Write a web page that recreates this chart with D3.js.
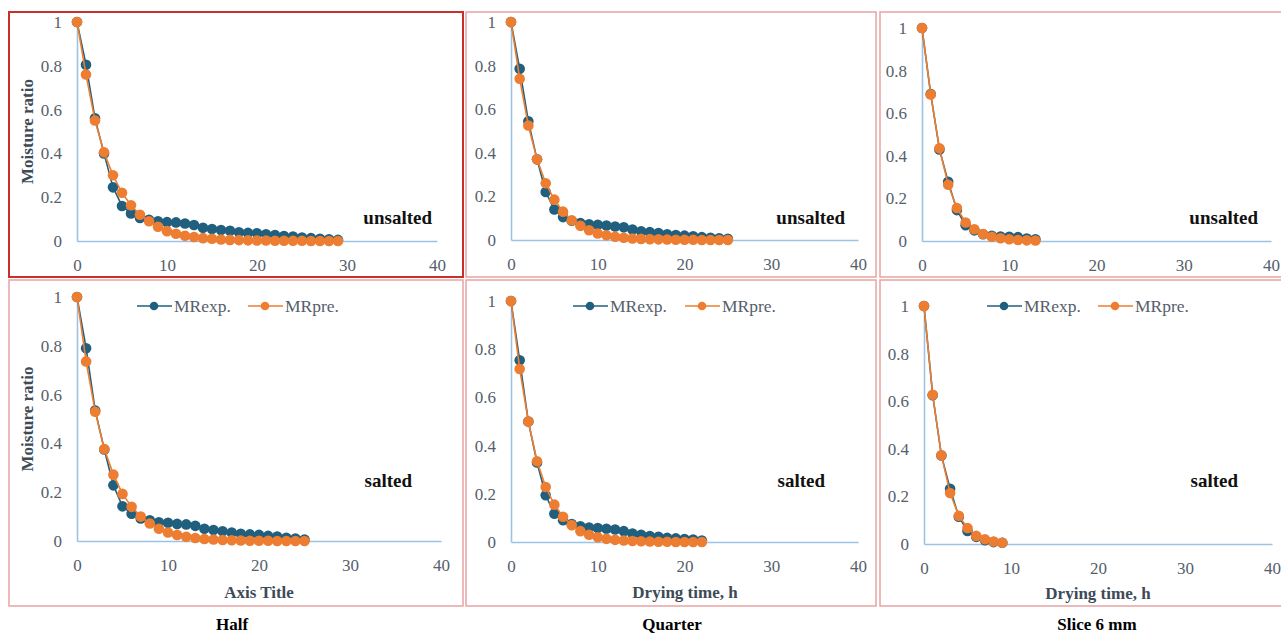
<!DOCTYPE html>
<html>
<head>
<meta charset="utf-8">
<script src="https://cdn.jsdelivr.net/npm/d3@7"></script>
<style>
  html, body { margin: 0; padding: 0; background: #ffffff; }
  svg { display: block; }
  text { font-family: "Liberation Serif", "DejaVu Serif", serif; }
</style>
</head>
<body>
<svg id="chart" width="1281" height="635"></svg>
<script>
// ---------------- DATA ----------------
const seriesNames = ["MRexp.", "MRpre."];
const xTicks = [0, 10, 20, 30, 40];
const yTicks = [0, 0.2, 0.4, 0.6, 0.8, 1];
const conditionLabels = ["unsalted", "salted"];
const shapeLabels = ["Half", "Quarter", "Slice 6 mm"];
const xAxisTitles = ["Axis Title", "Drying time, h", "Drying time, h"];
const yAxisTitle = "Moisture ratio";

// Half, unsalted (t = 0..29 h)
const halfUnsaltedExp = [1, 0.805, 0.56, 0.40, 0.245, 0.16, 0.126, 0.105, 0.097, 0.09, 0.086, 0.085, 0.08, 0.073, 0.06, 0.055, 0.05, 0.047, 0.04, 0.037, 0.035, 0.031, 0.027, 0.023, 0.02, 0.016, 0.013, 0.01, 0.008, 0.005];
const halfUnsaltedPre = [1, 0.76, 0.55, 0.405, 0.30, 0.22, 0.163, 0.12, 0.09, 0.065, 0.045, 0.033, 0.024, 0.018, 0.013, 0.01, 0.007, 0.005, 0.004, 0.003, 0.002, 0.002, 0.001, 0.001, 0.001, 0.001, 0, 0, 0, 0];
// Quarter, unsalted (t = 0..25 h)
const quarterUnsaltedExp = [1, 0.785, 0.545, 0.37, 0.22, 0.14, 0.105, 0.088, 0.078, 0.072, 0.07, 0.066, 0.062, 0.058, 0.048, 0.04, 0.036, 0.032, 0.026, 0.023, 0.02, 0.017, 0.013, 0.01, 0.008, 0.006];
const quarterUnsaltedPre = [1, 0.74, 0.525, 0.37, 0.26, 0.185, 0.13, 0.09, 0.065, 0.045, 0.03, 0.022, 0.015, 0.01, 0.007, 0.005, 0.004, 0.003, 0.002, 0.001, 0.001, 0.001, 0, 0, 0, 0];
// Slice 6 mm, unsalted (t = 0..13 h)
const sliceUnsaltedExp = [1, 0.69, 0.43, 0.278, 0.145, 0.074, 0.05, 0.032, 0.025, 0.021, 0.02, 0.018, 0.012, 0.008];
const sliceUnsaltedPre = [1, 0.688, 0.435, 0.264, 0.155, 0.087, 0.055, 0.033, 0.02, 0.013, 0.008, 0.005, 0.003, 0.002];
// Half, salted (t = 0..25 h)
const halfSaltedExp = [1, 0.79, 0.535, 0.375, 0.228, 0.142, 0.112, 0.092, 0.085, 0.077, 0.075, 0.07, 0.068, 0.062, 0.05, 0.045, 0.04, 0.035, 0.03, 0.027, 0.025, 0.021, 0.018, 0.013, 0.01, 0.006];
const halfSaltedPre = [1, 0.736, 0.53, 0.377, 0.272, 0.193, 0.14, 0.1, 0.072, 0.05, 0.035, 0.025, 0.017, 0.012, 0.008, 0.006, 0.004, 0.003, 0.002, 0.001, 0.001, 0.001, 0, 0, 0, 0];
// Quarter, salted (t = 0..22 h)
const quarterSaltedExp = [1, 0.754, 0.50, 0.33, 0.194, 0.117, 0.09, 0.075, 0.065, 0.06, 0.058, 0.055, 0.052, 0.045, 0.035, 0.03, 0.025, 0.022, 0.017, 0.015, 0.012, 0.01, 0.006];
const quarterSaltedPre = [1, 0.718, 0.50, 0.335, 0.228, 0.155, 0.105, 0.07, 0.045, 0.03, 0.02, 0.013, 0.009, 0.006, 0.004, 0.003, 0.002, 0.001, 0.001, 0, 0, 0, 0];
// Slice 6 mm, salted (t = 0..9 h)
const sliceSaltedExp = [1, 0.625, 0.372, 0.232, 0.115, 0.055, 0.03, 0.016, 0.008, 0.005];
const sliceSaltedPre = [1, 0.627, 0.373, 0.214, 0.119, 0.067, 0.034, 0.02, 0.01, 0.005];

// ---------------- LAYOUT ----------------
const colors = { exp: "#215f7e", pre: "#ed7d31", axis: "#9cc2e5", tick: "#56606b", title: "#3d4a57" };
const serif = '"Liberation Serif", "DejaVu Serif", serif';

const panels = [
  { box: [9, 12, 463, 277], x: [77, 437], y: [241, 22], exp: halfUnsaltedExp, pre: halfUnsaltedPre, cond: 0, yTitle: true, xTitle: null, legend: null, tag: [432, 224], border: "#c9302c", bw: 2 },
  { box: [466, 12, 876, 277], x: [511, 858], y: [240, 22], exp: quarterUnsaltedExp, pre: quarterUnsaltedPre, cond: 0, yTitle: false, xTitle: null, legend: null, tag: [845, 224], border: "#e9a2a2", bw: 1.5 },
  { box: [880, 12, 1295, 277], x: [922, 1271], y: [241, 28], exp: sliceUnsaltedExp, pre: sliceUnsaltedPre, cond: 0, yTitle: false, xTitle: null, legend: null, tag: [1258, 224], border: "#e9a2a2", bw: 1.5 },
  { box: [9, 280, 463, 606], x: [77, 441], y: [541, 297], exp: halfSaltedExp, pre: halfSaltedPre, cond: 1, yTitle: true, xTitle: 0, xTitlePos: [259, 598], legend: [137, 248, 306], tag: [412, 487], border: "#e9a2a2", bw: 1.5 },
  { box: [466, 280, 876, 606], x: [511, 858], y: [542, 301], exp: quarterSaltedExp, pre: quarterSaltedPre, cond: 1, yTitle: false, xTitle: 1, xTitlePos: [685, 598], legend: [573, 685, 306], tag: [825, 487], border: "#e9a2a2", bw: 1.5 },
  { box: [880, 280, 1295, 606], x: [924, 1272], y: [544, 306], exp: sliceSaltedExp, pre: sliceSaltedPre, cond: 1, yTitle: false, xTitle: 2, xTitlePos: [1098, 599], legend: [987, 1098, 306], tag: [1238, 487], border: "#e9a2a2", bw: 1.5 }
];

const captionPos = [[232, 630], [672, 630], [1097, 630]];

const svg = d3.select("#chart");

panels.forEach((p, idx) => {
  const g = svg.append("g");
  g.append("rect")
    .attr("x", p.box[0]).attr("y", p.box[1])
    .attr("width", p.box[2] - p.box[0]).attr("height", p.box[3] - p.box[1])
    .attr("fill", "none").attr("stroke", p.border).attr("stroke-width", p.bw);

  const xs = d3.scaleLinear().domain([0, 40]).range(p.x);
  const ys = d3.scaleLinear().domain([0, 1]).range(p.y);

  const xAxis = d3.axisBottom(xs).tickValues(xTicks).tickSize(0).tickPadding(18).tickFormat(d3.format("d"));
  const yAxis = d3.axisLeft(ys).tickValues(yTicks).tickSize(0).tickPadding(15).tickFormat(d => String(+d.toFixed(1)));

  const gx = g.append("g").attr("transform", `translate(0,${p.y[0]})`).call(xAxis);
  const gy = g.append("g").attr("transform", `translate(${p.x[0]},0)`).call(yAxis);
  [gx, gy].forEach(a => {
    a.attr("font-family", serif).attr("font-size", 17);
    a.select(".domain").attr("stroke", colors.axis).attr("stroke-width", 1.6);
    a.selectAll("text").attr("fill", colors.tick);
  });

  const line = d3.line().x((d, i) => xs(i)).y(d => ys(d));
  const series = [{ v: p.exp, c: colors.exp }, { v: p.pre, c: colors.pre }];
  series.forEach(s => {
    g.append("path").datum(s.v).attr("d", line)
      .attr("fill", "none").attr("stroke", s.c).attr("stroke-width", 1.6);
    g.selectAll(null).data(s.v).enter().append("circle")
      .attr("cx", (d, i) => xs(i)).attr("cy", d => ys(d)).attr("r", 5.3)
      .attr("fill", s.c);
  });

  g.append("text").attr("x", p.tag[0]).attr("y", p.tag[1])
    .attr("text-anchor", "end").attr("fill", "#111")
    .style("font-size", "19px").style("font-weight", "bold")
    .text(conditionLabels[p.cond]);

  if (p.yTitle) {
    const cy = (p.y[0] + p.y[1]) / 2;
    g.append("text").attr("transform", `translate(33,${cy}) rotate(-90)`)
      .attr("text-anchor", "middle").attr("fill", colors.title)
      .style("font-size", "17px").style("font-weight", "bold")
      .text(yAxisTitle);
  }
  if (p.xTitle !== null) {
    g.append("text").attr("x", p.xTitlePos[0]).attr("y", p.xTitlePos[1])
      .attr("text-anchor", "middle").attr("fill", colors.title)
      .style("font-size", "17px").style("font-weight", "bold")
      .text(xAxisTitles[p.xTitle]);
  }
  if (p.legend) {
    const [lx1, lx2, ly] = p.legend;
    [[lx1, colors.exp, seriesNames[0]], [lx2, colors.pre, seriesNames[1]]].forEach(([lx, c, name]) => {
      g.append("line").attr("x1", lx).attr("x2", lx + 35).attr("y1", ly).attr("y2", ly)
        .attr("stroke", c).attr("stroke-width", 1.6);
      g.append("circle").attr("cx", lx + 17).attr("cy", ly).attr("r", 4.3).attr("fill", c);
      g.append("text").attr("x", lx + 37).attr("y", ly + 6)
        .attr("fill", colors.tick).style("font-size", "17.5px").text(name);
    });
  }
});

shapeLabels.forEach((s, i) => {
  svg.append("text").attr("x", captionPos[i][0]).attr("y", captionPos[i][1])
    .attr("text-anchor", "middle").attr("fill", "#000")
    .style("font-size", "17px").style("font-weight", "bold")
    .text(s);
});
</script>
</body>
</html>
